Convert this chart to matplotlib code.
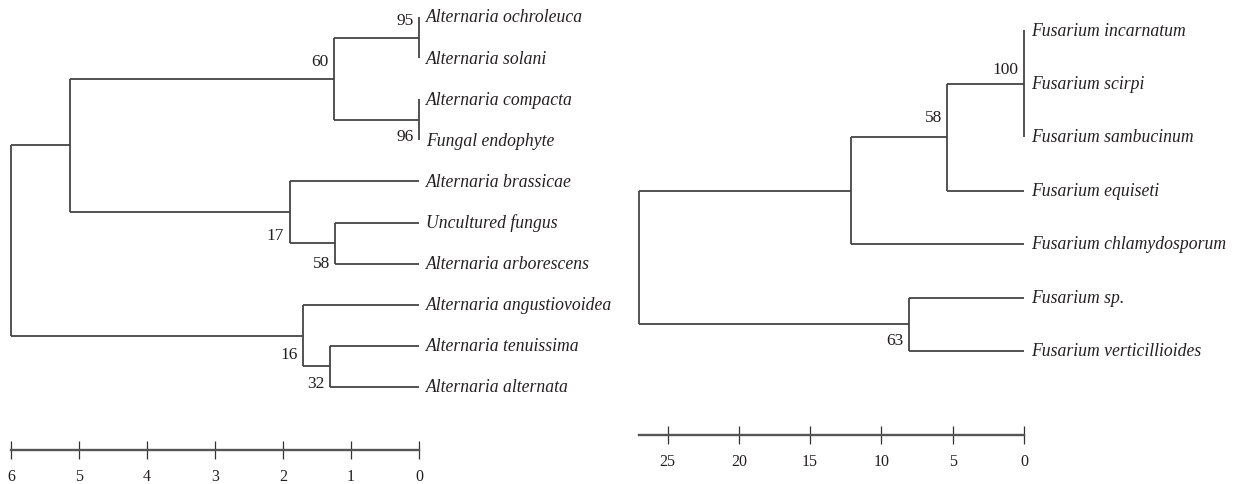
import matplotlib.pyplot as plt

plt.rcParams['font.family'] = ['Liberation Serif', 'DejaVu Serif']

# Alternaria dendrogram: leaves top to bottom, then merges as
# (node id, children, height, bootstrap support)
alt_leaves = ["Alternaria ochroleuca", "Alternaria solani", "Alternaria compacta",
              "Fungal endophyte", "Alternaria brassicae", "Uncultured fungus",
              "Alternaria arborescens", "Alternaria angustiovoidea",
              "Alternaria tenuissima", "Alternaria alternata"]
alt_merges = [
    ("a", [0, 1], 0.0, 95),
    ("b", [2, 3], 0.0, 96),
    ("c", ["a", "b"], 1.25, 60),
    ("d", [5, 6], 1.23, 58),
    ("e", [4, "d"], 1.90, 17),
    ("f", ["c", "e"], 5.13, None),
    ("g", [8, 9], 1.31, 32),
    ("h", [7, "g"], 1.70, 16),
    ("root", ["f", "h"], 6.0, None),
]
# where the support value sits along each node's vertical bar (0 = top)
alt_label_frac = [0.07, 0.9, 0.29, 0.98, 0.87, 0, 0.9, 0.8, 0]
alt_ticks = [0, 1, 2, 3, 4, 5, 6]

# Fusarium dendrogram
fus_leaves = ["Fusarium incarnatum", "Fusarium scirpi", "Fusarium sambucinum",
              "Fusarium equiseti", "Fusarium chlamydosporum", "Fusarium sp.",
              "Fusarium verticillioides"]
fus_merges = [
    ("a", [0, 1, 2], 0.0, 100),
    ("b", ["a", 3], 5.37, 58),
    ("c", ["b", 4], 12.12, None),
    ("d", [5, 6], 8.06, 63),
    ("root", ["c", "d"], 27.0, None),
]
fus_label_frac = [0.36, 0.31, 0, 0.8, 0]
fus_ticks = [0, 5, 10, 15, 20, 25]

LINE = "#444444"
TEXT = "#231f20"


def draw_tree(ax, leaves, merges, label_frac):
    ypos = {i: float(i) for i in range(len(leaves))}
    xpos = {i: 0.0 for i in range(len(leaves))}
    for (name, kids, height, support), frac in zip(merges, label_frac):
        ys = [ypos[k] for k in kids]
        lo, hi = min(ys), max(ys)
        ax.vlines(height, lo, hi, color=LINE, lw=1.3, clip_on=False)
        for k in kids:
            if xpos[k] != height:
                ax.hlines(ypos[k], height, xpos[k], color=LINE, lw=1.3,
                          clip_on=False)
        ypos[name] = (lo + hi) / 2
        xpos[name] = height
        if support is not None:
            ax.annotate(str(support), (height, lo + frac * (hi - lo)),
                        xytext=(-4, 0), textcoords='offset points',
                        ha='right', va='center', fontsize=12.5,
                        color=TEXT, annotation_clip=False)
    for i, name in enumerate(leaves):
        ax.annotate(name, (0, i), xytext=(5, 0), textcoords='offset points',
                    ha='left', va='center', style='italic', fontsize=12.7,
                    color=TEXT, annotation_clip=False)


def style_scale(ax, ticks):
    for side in ['top', 'left', 'right']:
        ax.spines[side].set_visible(False)
    ax.spines['bottom'].set_linewidth(1.7)
    ax.spines['bottom'].set_color('#555555')
    ax.set_yticks([])
    ax.set_xticks(ticks)
    ax.tick_params(axis='x', direction='inout', length=13, width=0.9,
                   color='#333333', pad=6.5, labelsize=11.5, labelcolor=TEXT)
    ax.patch.set_visible(False)


W, H = 1243, 485
fig = plt.figure(figsize=(W / 100, H / 100), dpi=100)

# left tree: 6 -> x=11 px, 0 -> x=419 px, scale bar at y=451 px
ax1 = fig.add_axes([11 / W, 1 - 451 / H, 408 / W, 451 / H])
ax1.set_xlim(6, 0)
ax1.set_ylim((451 - 18) / 41.1, -18 / 41.1)
draw_tree(ax1, alt_leaves, alt_merges, alt_label_frac)
style_scale(ax1, alt_ticks)

# right tree: 27 -> x=639 px, 0 -> x=1024 px, scale bar at y=436 px
ax2 = fig.add_axes([639 / W, 1 - 436 / H, 385 / W, 436 / H])
ax2.set_xlim(27, 0)
ax2.set_ylim((436 - 31) / 53.5, -31 / 53.5)
draw_tree(ax2, fus_leaves, fus_merges, fus_label_frac)
style_scale(ax2, fus_ticks)

fig.savefig("out.png", dpi=100)
